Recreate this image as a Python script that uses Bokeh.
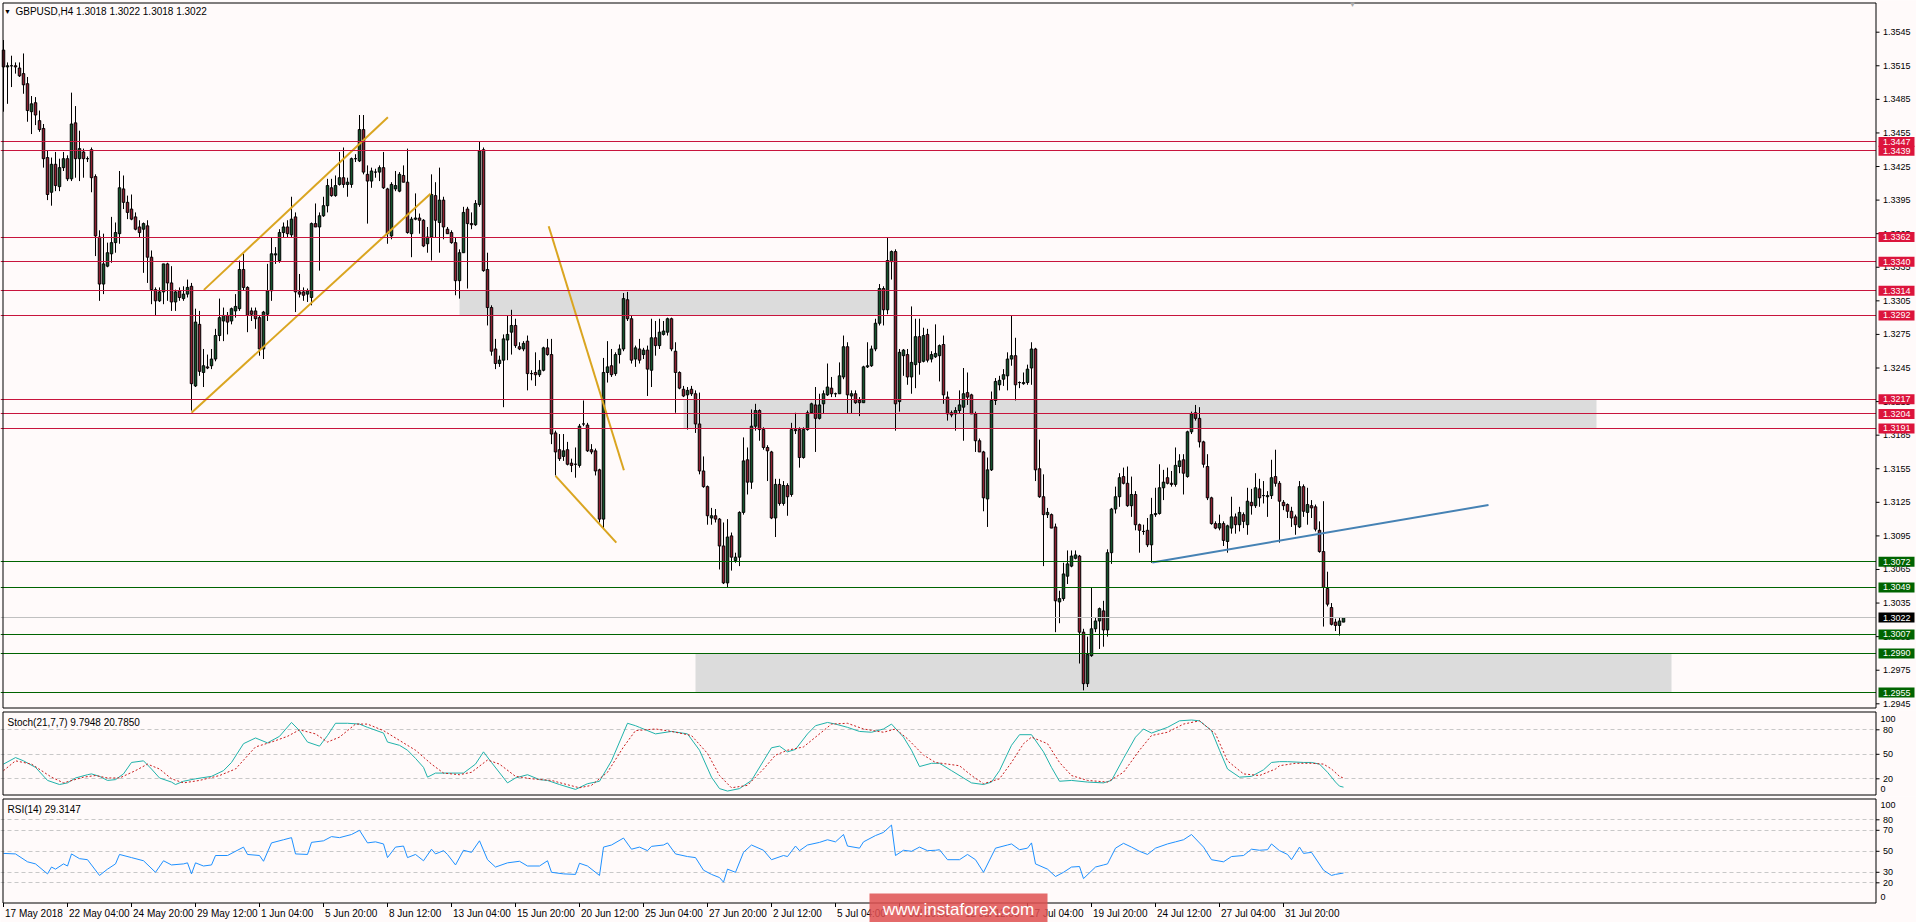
from bokeh.plotting import figure
from bokeh.models import Range1d, ColumnDataSource
from bokeh.layouts import column
from bokeh.embed import file_html
from bokeh.resources import INLINE
from bokeh.core.properties import value

# ---------------------------------------------------------------- data
symbol = "GBPUSD,H4"
last_bar = ["1.3018", "1.3022", "1.3018", "1.3022"]
price_base = 1.2900          # OHLC below are pips above this base
pip = 0.0001

opens = [
    629, 614, 615, 615, 613, 608, 599, 574, 582, 566,
    559, 533, 502, 527, 507, 524, 532, 514, 564, 532,
    538, 532, 540, 516, 462, 420, 436, 447, 457, 465,
    505, 493, 487, 480, 471, 469, 472, 444, 415, 405,
    413, 438, 421, 404, 414, 407, 411, 418, 329, 384,
    341, 346, 347, 353, 374, 387, 392, 387, 396, 398,
    433, 417, 396, 396, 390, 362, 393, 414, 446, 441,
    466, 471, 464, 480, 413, 413, 411, 408, 474, 471,
    481, 490, 506, 499, 509, 515, 509, 509, 532, 530,
    558, 518, 512, 520, 520, 524, 505, 463, 505, 503,
    517, 511, 465, 478, 479, 477, 456, 462, 499, 475,
    495, 469, 466, 457, 423, 448, 487, 474, 473, 491,
    540, 433, 399, 362, 349, 352, 370, 377, 383, 364,
    362, 369, 340, 341, 339, 343, 363, 357, 287, 272,
    266, 272, 260, 259, 258, 295, 294, 272, 271, 254,
    210, 341, 347, 340, 357, 362, 406, 389, 353, 362,
    357, 361, 343, 372, 365, 375, 377, 389, 360, 341,
    326, 321, 326, 322, 295, 253, 239, 211, 213, 210,
    186, 153, 195, 173, 176, 216, 263, 243, 293, 307,
    290, 274, 270, 211, 241, 224, 240, 232, 290, 290,
    265, 290, 305, 312, 300, 313, 321, 327, 322, 322,
    337, 364, 320, 322, 316, 314, 346, 347, 362, 385,
    416, 397, 440, 449, 315, 356, 357, 337, 348, 373,
    351, 375, 353, 355, 356, 366, 319, 305, 304, 307,
    310, 323, 321, 304, 280, 270, 228, 254, 316, 330,
    335, 338, 353, 356, 332, 331, 332, 345, 362, 255,
    230, 214, 214, 203, 136, 139, 159, 168, 175, 177,
    109, 63, 88, 112, 119, 128, 111, 180, 219, 230,
    248, 242, 222, 232, 205, 199, 200, 187, 214, 215,
    238, 247, 242, 241, 257, 263, 248, 288, 305, 300,
    279, 257, 229, 206, 202, 206, 190, 202, 212, 205,
    214, 205, 225, 222, 237, 231, 230, 231, 248, 242,
    225, 223, 217, 212, 203, 239, 216, 222, 221, 200,
    181, 148, 131, 118, 115, 118]
highs = [
    638, 618, 624, 618, 618, 626, 605, 588, 587, 575,
    563, 539, 533, 538, 532, 538, 535, 591, 579, 557,
    541, 534, 542, 518, 468, 465, 457, 480, 475, 521,
    517, 499, 500, 484, 477, 475, 477, 450, 417, 417,
    438, 439, 436, 415, 417, 418, 424, 421, 398, 396,
    362, 357, 362, 380, 407, 399, 395, 399, 411, 441,
    447, 418, 399, 399, 392, 396, 438, 462, 453, 469,
    475, 477, 498, 484, 429, 417, 416, 475, 492, 484,
    498, 514, 514, 517, 538, 542, 515, 533, 536, 571,
    571, 526, 524, 523, 526, 538, 506, 511, 521, 520,
    526, 541, 480, 501, 483, 478, 471, 518, 511, 524,
    498, 471, 468, 462, 451, 489, 489, 484, 495, 547,
    542, 448, 401, 371, 356, 375, 392, 397, 389, 368,
    369, 374, 343, 359, 352, 364, 371, 371, 289, 286,
    286, 279, 264, 274, 295, 316, 296, 277, 273, 255,
    354, 369, 362, 359, 366, 412, 413, 392, 365, 371,
    363, 365, 389, 387, 389, 387, 390, 390, 368, 342,
    329, 328, 329, 325, 323, 266, 240, 220, 219, 211,
    207, 210, 198, 180, 217, 283, 274, 308, 313, 308,
    292, 276, 271, 246, 246, 244, 242, 296, 305, 292,
    292, 307, 314, 328, 322, 325, 349, 337, 323, 350,
    374, 368, 325, 325, 319, 347, 368, 365, 389, 420,
    418, 462, 450, 451, 362, 362, 362, 400, 389, 389,
    381, 380, 360, 384, 366, 374, 324, 307, 310, 325,
    345, 341, 322, 306, 282, 271, 265, 324, 336, 338,
    344, 359, 392, 372, 333, 341, 348, 368, 363, 281,
    250, 220, 215, 206, 146, 171, 182, 182, 182, 178,
    112, 105, 149, 122, 131, 137, 183, 220, 239, 251,
    256, 257, 248, 235, 206, 205, 211, 229, 238, 259,
    254, 256, 253, 274, 268, 268, 289, 306, 312, 310,
    280, 268, 230, 208, 214, 208, 205, 230, 215, 221,
    216, 238, 237, 251, 246, 244, 235, 263, 272, 244,
    227, 224, 221, 214, 244, 241, 238, 227, 223, 208,
    226, 163, 135, 121, 122, 122]
lows = [
    574, 581, 596, 608, 605, 590, 565, 554, 562, 556,
    524, 495, 490, 503, 503, 521, 512, 512, 515, 512,
    515, 529, 502, 445, 405, 411, 435, 439, 448, 456,
    487, 478, 477, 468, 462, 430, 421, 402, 392, 404,
    402, 405, 396, 396, 405, 405, 408, 307, 328, 338,
    328, 344, 344, 351, 369, 369, 375, 384, 390, 396,
    414, 377, 387, 380, 356, 353, 387, 405, 438, 439,
    462, 462, 462, 395, 408, 405, 404, 401, 471, 432,
    480, 484, 498, 498, 508, 506, 498, 506, 529, 529,
    518, 474, 506, 515, 512, 505, 456, 460, 503, 502,
    511, 465, 444, 477, 465, 453, 448, 441, 462, 448,
    460, 465, 456, 410, 407, 448, 416, 469, 472, 489,
    431, 383, 356, 344, 346, 310, 352, 357, 363, 361,
    360, 325, 334, 329, 337, 342, 356, 277, 249, 262,
    262, 258, 252, 247, 256, 293, 270, 268, 249, 207,
    201, 332, 337, 338, 349, 360, 387, 349, 346, 349,
    353, 320, 328, 356, 362, 374, 374, 360, 305, 326,
    319, 290, 320, 287, 250, 238, 205, 205, 207, 165,
    152, 149, 164, 171, 168, 214, 232, 237, 289, 280,
    272, 244, 210, 194, 222, 222, 213, 230, 286, 256,
    264, 289, 304, 270, 299, 304, 320, 319, 319, 322,
    335, 304, 304, 313, 302, 314, 345, 346, 360, 383,
    383, 393, 424, 289, 306, 338, 330, 322, 327, 339,
    350, 350, 350, 354, 333, 313, 298, 301, 289, 304,
    280, 312, 304, 270, 270, 217, 203, 253, 312, 325,
    329, 325, 347, 316, 327, 330, 330, 330, 244, 229,
    168, 211, 202, 109, 117, 137, 152, 167, 174, 81,
    57, 60, 87, 109, 94, 96, 105, 170, 215, 221,
    241, 221, 212, 200, 180, 196, 185, 171, 212, 214,
    227, 241, 239, 239, 251, 232, 247, 286, 298, 274,
    256, 227, 205, 201, 200, 186, 180, 197, 197, 199,
    202, 196, 214, 220, 221, 224, 212, 228, 239, 189,
    218, 211, 203, 196, 202, 212, 205, 211, 199, 180,
    114, 132, 115, 110, 106, 118]
closes = [
    614, 615, 615, 614, 606, 598, 575, 581, 571, 558,
    532, 500, 527, 508, 524, 532, 514, 563, 532, 541,
    532, 532, 515, 463, 420, 438, 448, 457, 466, 506,
    493, 484, 478, 469, 466, 474, 444, 415, 405, 413,
    438, 421, 404, 413, 408, 411, 417, 331, 386, 342,
    347, 345, 353, 374, 390, 392, 386, 398, 400, 433,
    417, 392, 393, 389, 362, 395, 414, 447, 447, 466,
    471, 465, 478, 413, 411, 410, 414, 474, 471, 481,
    490, 508, 499, 508, 515, 509, 511, 532, 532, 558,
    520, 512, 521, 520, 524, 506, 465, 509, 508, 518,
    511, 466, 478, 479, 477, 454, 462, 500, 477, 495,
    471, 465, 457, 423, 448, 484, 474, 473, 492, 539,
    432, 399, 360, 349, 352, 371, 375, 383, 365, 362,
    367, 340, 340, 339, 343, 363, 357, 286, 270, 264,
    271, 259, 258, 259, 293, 295, 271, 270, 253, 210,
    341, 346, 339, 357, 362, 407, 389, 352, 363, 352,
    361, 344, 372, 365, 377, 378, 389, 362, 341, 327,
    320, 325, 322, 295, 253, 239, 213, 213, 210, 186,
    153, 194, 176, 176, 216, 262, 243, 293, 307, 290,
    274, 271, 211, 241, 224, 240, 230, 290, 289, 265,
    290, 305, 313, 300, 312, 322, 328, 322, 322, 338,
    364, 321, 322, 314, 314, 346, 347, 362, 385, 416,
    397, 441, 449, 313, 359, 361, 337, 350, 373, 350,
    374, 352, 357, 358, 365, 321, 304, 303, 307, 312,
    322, 319, 304, 280, 270, 229, 254, 316, 333, 334,
    339, 353, 356, 330, 332, 332, 344, 362, 254, 230,
    214, 216, 202, 137, 139, 161, 170, 177, 178, 109,
    63, 89, 112, 119, 130, 111, 180, 219, 230, 247,
    242, 222, 232, 205, 200, 199, 187, 214, 215, 238,
    243, 242, 241, 258, 262, 251, 288, 304, 300, 279,
    259, 229, 206, 202, 206, 191, 204, 212, 205, 216,
    208, 226, 222, 238, 229, 231, 231, 247, 242, 226,
    222, 217, 211, 205, 239, 217, 223, 220, 201, 181,
    149, 134, 116, 115, 119, 122]

tick_bars = [0, 16, 32, 48, 64, 80, 96, 112, 128, 144, 160, 176, 192, 208,
             224, 240, 256, 272, 288, 304, 320]
tick_labels = ["17 May 2018", "22 May 04:00", "24 May 20:00", "29 May 12:00",
               "1 Jun 04:00", "5 Jun 20:00", "8 Jun 12:00", "13 Jun 04:00",
               "15 Jun 20:00", "20 Jun 12:00", "25 Jun 04:00", "27 Jun 20:00",
               "2 Jul 12:00", "5 Jul 04:00", "9 Jul 20:00", "12 Jul 12:00",
               "17 Jul 04:00", "19 Jul 20:00", "24 Jul 12:00", "27 Jul 04:00",
               "31 Jul 20:00"]
y_ticks = [1.2945, 1.2975, 1.3005, 1.3035, 1.3065, 1.3095, 1.3125, 1.3155,
           1.3185, 1.3215, 1.3245, 1.3275, 1.3305, 1.3335, 1.3365, 1.3395,
           1.3425, 1.3455, 1.3485, 1.3515, 1.3545]

resistance = [1.3447, 1.3439, 1.3362, 1.3340, 1.3314, 1.3292, 1.3217, 1.3204, 1.3191]
support = [1.3072, 1.3049, 1.3007, 1.2990, 1.2955]
current_price = 1.3022

zone_left = [114, 170, 173]
zone_right = [219, 398.25, 417]
zone_bottom = [1.3292, 1.3191, 1.2955]
zone_top = [1.3314, 1.3217, 1.2990]

gold_x0 = [50.1, 47.0, 136.3, 138.0]
gold_y0 = [1.33148, 1.32050, 1.33717, 1.31486]
gold_x1 = [96.1, 106.75, 155.1, 153.2]
gold_y1 = [1.34691, 1.34006, 1.31537, 1.30890]
blue_x0 = [287.2]
blue_y0 = [1.30713]
blue_x1 = [371.25]
blue_y1 = [1.31226]

stoch_bar = [0, 3, 5, 8, 11, 14, 16, 18, 21, 22, 24, 26, 28, 30, 32, 35, 37, 39, 42, 43,
             45, 48, 52, 55, 57, 60, 63, 66, 69, 72, 74, 76, 79, 81, 83, 86, 89, 91, 95, 96,
             99, 101, 103, 105, 106, 108, 112, 115, 118, 120, 122, 126, 128, 131, 134, 136,
             139, 143, 146, 149, 152, 156, 158, 159, 163, 167, 171, 174, 177, 179, 181, 184,
             187, 190, 192, 194, 196, 198, 201, 203, 206, 208, 211, 214, 217, 220, 222, 225,
             227, 229, 232, 234, 237, 240, 242, 245, 247, 249, 252, 254, 257, 260, 262, 264,
             267, 271, 275, 277, 280, 283, 285, 287, 291, 294, 297, 299, 302, 304, 306, 309,
             312, 315, 317, 319, 321, 325, 327, 329, 331, 333, 334, 335]
stoch_main = [38, 46, 42, 34, 18, 13, 15, 21, 25, 26, 23, 18, 19, 26, 40, 42, 32, 21, 16, 13,
              17, 20, 23, 30, 40, 63, 70, 64, 72, 89, 79, 65, 60, 73, 88, 88, 87, 83, 76, 65,
              61, 55, 45, 34, 22, 27, 27, 27, 38, 53, 40, 15, 21, 25, 19, 18,
              13, 7, 14, 17, 42, 88, 85, 83, 75, 78, 75, 55, 22, 8, 5, 8,
              18, 42, 58, 60, 53, 56, 75, 85, 89, 87, 83, 78, 77, 81, 87, 71,
              55, 35, 39, 39, 30, 21, 15, 13, 16, 30, 61, 74, 74, 53, 34, 17,
              18, 16, 15, 18, 45, 71, 81, 76, 83, 91, 92, 91, 79, 55, 32, 22,
              23, 31, 40, 41, 41, 40, 40, 38, 28, 16, 11, 9.79]
signal_bar = [0, 3, 7, 12, 15, 20, 23, 26, 29, 33, 36, 39, 42, 45, 49, 54, 58, 63, 67, 71,
              74, 78, 81, 84, 88, 91, 95, 99, 103, 107, 110, 114, 117, 121, 124, 128, 132,
              137, 140, 144, 147, 151, 155, 158, 163, 167, 172, 176, 179, 182, 186, 190,
              193, 196, 200, 203, 207, 211, 215, 220, 223, 226, 230, 233, 239, 242, 245,
              249, 252, 255, 257, 261, 264, 267, 271, 276, 280, 284, 287, 291, 295, 299,
              303, 306, 310, 314, 318, 319, 323, 327, 330, 332, 334, 335]
stoch_signal = [30, 42, 38, 22, 15, 22, 24, 21, 21, 30, 38, 32, 20, 15, 18, 24, 32, 59, 65, 72,
                80, 75, 65, 71, 87, 87, 79, 67, 55, 38, 27, 25, 28, 43, 38, 23, 20,
                18, 14, 9, 12, 28, 59, 79, 81, 78, 73, 51, 24, 9, 12, 32,
                49, 55, 59, 71, 87, 88, 81, 77, 81, 69, 49, 40, 36, 24, 14,
                20, 40, 63, 71, 63, 40, 24, 18, 16, 28, 55, 73, 77, 87, 91,
                75, 42, 26, 24, 32, 36, 39, 39, 38, 32, 23, 20.785]
rsi_bar = [0, 3, 6, 8, 11, 12, 13, 15, 16, 17, 19, 21, 24, 26, 28, 29, 32, 35, 38, 40,
           42, 45, 46, 47, 48, 50, 52, 53, 56, 60, 61, 64, 65, 67, 70, 72, 73, 76, 77, 80,
           82, 84, 87, 89, 91, 93, 95, 96, 98, 100, 101, 103, 105, 107, 108, 110, 111, 113,
           115, 117, 119, 121, 123, 126, 129, 131, 134, 136, 137, 140, 143, 144, 146, 149,
           150, 152, 155, 157, 159, 161, 162, 165, 166, 168, 171, 173, 175, 177, 179, 180,
           181, 183, 185, 187, 190, 192, 195, 196, 198, 199, 201, 204, 206, 208, 210, 211,
           214, 215, 218, 220, 222, 223, 225, 227, 229, 231, 233, 234, 236, 239, 241, 243,
           245, 248, 251, 252, 254, 256, 257, 258, 261, 263, 265, 267, 269, 270, 273, 275,
           276, 278, 280, 282, 284, 286, 288, 291, 293, 295, 297, 300, 302, 305, 307, 310,
           312, 314, 316, 317, 319, 321, 322, 324, 325, 327, 330, 332, 333, 335]
rsi_val = [48, 47.5, 40, 38, 28.5, 35, 33, 38, 36, 47.5, 43, 42, 27, 33, 38, 47, 44, 41, 30, 41,
           37, 38, 39, 28.5, 39, 36, 37, 46, 46, 54, 47, 46, 40.5, 58, 61, 63, 47.5, 47, 58.5, 60,
           64, 63, 66, 70, 58, 59, 57, 44, 54, 55, 44, 47, 41, 52, 47.5, 50.6, 47, 37,
           51, 49, 60, 42, 35, 39, 40.5, 36, 36, 41, 30, 28.5, 28, 38.6, 36, 27,
           54, 56, 62.6, 52, 54, 50.6, 54.7, 56, 58, 47.5, 45, 44, 32, 28, 25, 20.6,
           33, 30, 49, 56, 51, 42, 46, 45, 55, 50.6, 56, 58.5, 61, 59, 66, 55,
           53, 59, 65, 68, 75, 46, 51, 50, 54, 50.6, 51, 51.5, 42, 42, 47, 42,
           30, 53, 56, 57, 51.5, 53, 58, 38, 33, 26, 30, 35, 35.5, 24, 35, 37,
           38, 53, 57.6, 54, 50, 47, 53, 57, 59, 61, 66, 54, 42, 40, 45, 46,
           52, 51, 51.5, 57, 50.6, 47, 42, 54, 48, 49, 32, 27, 28, 29.31]
stoch_levels = [20, 50, 80]
stoch_edge = [0, 100]
rsi_levels = [20, 30, 50, 70, 80]
rsi_edge = [0, 100]
stoch_last = ["9.7948", "20.7850"]
rsi_last = "29.3147"
watermark = "www.instaforex.com"

# ---------------------------------------------------------------- layout / style
W = 1916
PXB = 0.25                      # bars per pixel (4 px per bar)
XS = -0.75                      # bar value at the left edge of the canvas
XR = Range1d(XS, XS + W * PXB)
XMAX = XS + W * PXB


def bx(px):                     # canvas x pixel -> bar coordinate
    return XS + px * PXB


X0, X1 = bx(2.5), bx(1875.5)    # chart-area borders

BG = "#FFFAFA"
FONT = value("Liberation Sans")
FS = value("10px")
FS_SCALE = value("9px")
BULL = "#14522B"
BEAR = "#8E1F30"
RED_LINE = "#C8143C"
RED_TAG = "#DC143C"
GREEN = "#006400"
LEVEL_GRAY = "#C8C8C8"

n = len(closes)
assert len(opens) == n and len(highs) == n and len(lows) == n
idx = list(range(n))
o = [price_base + v * pip for v in opens]
c = [price_base + v * pip for v in closes]
h = [price_base + v * pip for v in highs]
l = [price_base + v * pip for v in lows]
top = [max(a, b) for a, b in zip(o, c)]
bot = [min(a, b) for a, b in zip(o, c)]
h = [max(a, b) for a, b in zip(h, top)]
l = [min(a, b) for a, b in zip(l, bot)]
colors = [BULL if cc >= oo else BEAR for oo, cc in zip(o, c)]
src = ColumnDataSource(dict(x=idx, top=top, bot=bot, h=h, l=l, color=colors))


class Panel:
    """Figure whose frame is the whole canvas; y maps linearly from page pixels."""

    def __init__(self, y_top_px, height, ref_val, ref_px, per_px):
        self.per = per_px
        self.ref_val, self.ref_px = ref_val, ref_px
        self.p = figure(width=W, height=height, x_range=XR,
                        y_range=Range1d(self.v(y_top_px + height), self.v(y_top_px)),
                        output_backend="svg", toolbar_location=None,
                        x_axis_location=None, y_axis_location=None,
                        min_border=0, background_fill_color=BG, border_fill_color=BG,
                        outline_line_color=None)
        self.p.grid.visible = False

    def v(self, page_y):          # page pixel row -> data value of this panel
        return self.ref_val - (page_y - self.ref_px) * self.per

    def finish(self, top_px, bot_px, ticks, labels):
        p = self.p
        # blank price-scale strip (hides spans beyond the chart area)
        p.quad(left=[X1], right=[XMAX + 1], bottom=[self.v(bot_px + 40)],
               top=[self.v(top_px - 40)], fill_color=BG, line_color=None)
        p.quad(left=X0, right=X1, bottom=self.v(bot_px), top=self.v(top_px),
               fill_color=None, line_color="black", line_width=1)
        k = len(ticks)
        p.segment(x0=[X1] * k, y0=ticks, x1=[bx(1879)] * k, y1=ticks,
                  line_color="black", line_width=1)
        p.text(x=[bx(1882.5)] * k, y=ticks, text=labels, text_align="left",
               text_baseline="middle", text_font=FONT, text_font_size=FS_SCALE,
               text_color="black")


def tags(pn, levels, fill):
    p, k, half = pn.p, len(levels), 5 * pn.per
    p.quad(left=[bx(1878)] * k, right=[bx(1914)] * k,
           bottom=[v - half for v in levels], top=[v + half for v in levels],
           fill_color=fill, line_color=None)
    p.text(x=[bx(1882.5)] * k, y=levels, text=[f"{v:.4f}" for v in levels],
           text_align="left", text_baseline="middle", text_font=FONT,
           text_font_size=FS_SCALE, text_color="white")


# ---------------------------------------------------------------- main panel
m = Panel(0, 710, 1.3545, 31.7, 0.06 / 671.6)
p1 = m.p
p1.quad(left=zone_left, right=zone_right, bottom=zone_bottom, top=zone_top,
        fill_color="#DCDCDC", line_color=None)
p1.segment(x0="x", y0="l", x1="x", y1="h", source=src, line_color="black", line_width=1)
p1.vbar(x="x", width=0.62, top="top", bottom="bot", source=src,
        fill_color="color", line_color="black", line_width=1)
p1.segment(x0=gold_x0, y0=gold_y0, x1=gold_x1, y1=gold_y1,
           line_color="#DAA520", line_width=2)
p1.segment(x0=blue_x0, y0=blue_y0, x1=blue_x1, y1=blue_y1,
           line_color="#4682B4", line_width=2)
p1.hspan(y=resistance, line_color=RED_LINE, line_width=1)
p1.hspan(y=support, line_color=GREEN, line_width=1)
p1.hspan(y=[current_price], line_color="#C0C0C0", line_width=1)
m.finish(2.5, 707.5, y_ticks, [f"{v:.4f}" for v in y_ticks])
tags(m, support, GREEN)
tags(m, resistance, RED_TAG)
tags(m, [current_price], "black")
p1.text(x=[bx(7)], y=[m.v(10.5)], text=["\u25bc"], text_align="center",
        text_baseline="middle", text_font=FONT, text_font_size=value("7px"),
        text_color="black")
p1.text(x=[bx(15)], y=[m.v(10.5)], text=[f"{symbol}  " + " ".join(last_bar)],
        text_baseline="middle", text_font=FONT, text_font_size=FS, text_color="black")
p1.text(x=[bx(1352)], y=[m.v(4)], text=["\u25bc"], text_align="center",
        text_baseline="middle", text_font=FONT, text_font_size=value("8px"),
        text_color="#A9A9A9")

# ---------------------------------------------------------------- stochastic
s = Panel(710, 86, 80, 729.3, 60 / 49)
p2 = s.p
p2.hspan(y=stoch_levels, line_color=LEVEL_GRAY, line_width=1, line_dash="4 3")
p2.line(stoch_bar, stoch_main, line_color="#20B2AA", line_width=1)
p2.line(signal_bar, stoch_signal, line_color="#C81E1E", line_width=1, line_dash="2 2")
s.finish(711.5, 794.5, stoch_levels, [str(v) for v in stoch_levels])
p2.text(x=[bx(1880)] * 2, y=[s.v(788.3), s.v(718.3)], text=[str(v) for v in stoch_edge],
        text_baseline="middle", text_font=FONT, text_font_size=FS_SCALE, text_color="black")
p2.text(x=[bx(7)], y=[s.v(722)], text=["Stoch(21,7,7) " + " ".join(stoch_last)],
        text_baseline="middle", text_font=FONT, text_font_size=FS, text_color="black")

# ---------------------------------------------------------------- RSI + time axis
r = Panel(796, 126, 80, 819.3, 60 / 63)
p3 = r.p
p3.hspan(y=rsi_levels, line_color=LEVEL_GRAY, line_width=1, line_dash="4 3")
p3.line(rsi_bar, rsi_val, line_color="#1E90FF", line_width=1)
r.finish(798.5, 902.5, rsi_levels, [str(v) for v in rsi_levels])
p3.text(x=[bx(1880)] * 2, y=[r.v(896.7), r.v(804.3)], text=[str(v) for v in rsi_edge],
        text_baseline="middle", text_font=FONT, text_font_size=FS_SCALE, text_color="black")
p3.text(x=[bx(7)], y=[r.v(809)], text=["RSI(14) " + rsi_last],
        text_baseline="middle", text_font=FONT, text_font_size=FS, text_color="black")
k = len(tick_bars)
p3.segment(x0=tick_bars, y0=[r.v(902.5)] * k, x1=tick_bars, y1=[r.v(906.5)] * k,
           line_color="black", line_width=1)
p3.text(x=[b + 1.5 * PXB for b in tick_bars], y=[r.v(912.5)] * k, text=tick_labels,
        text_align="left", text_baseline="middle", text_font=FONT, text_font_size=FS,
        text_color="black")
p3.quad(left=[bx(869)], right=[bx(1047)], bottom=[r.v(940)], top=[r.v(893)],
        fill_color="#DF5050", fill_alpha=0.85, line_color=None)
p3.text(x=[bx(958)], y=[r.v(909)], text=[watermark], text_align="center",
        text_baseline="middle", text_font=FONT, text_font_size=value("17px"),
        text_color="white")

layout = column(p1, p2, p3)
open("out.html", "w").write(file_html(layout, INLINE))
